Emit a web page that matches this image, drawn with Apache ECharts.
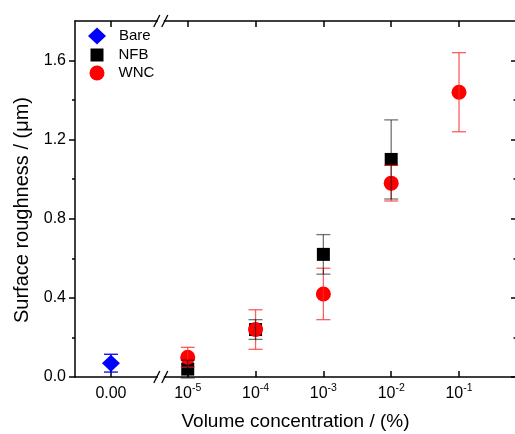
<!DOCTYPE html>
<html><head><meta charset="utf-8">
<script src="https://cdn.jsdelivr.net/npm/echarts@6/dist/echarts.min.js"></script>
<style>html,body{margin:0;padding:0;background:#fff}#c{width:515px;height:434px}</style>
</head><body><div id="c"></div>
<script>
// ---- data ----
const xTickConc = [0, 1e-5, 1e-4, 1e-3, 1e-2, 1e-1];
const xTickLabels = ['0.00', '10^-5', '10^-4', '10^-3', '10^-2', '10^-1'];
const yMajorTicks = [0, 0.4, 0.8, 1.2, 1.6];
const yMinorTicks = [0.2, 0.6, 1.0, 1.4];

const bareConc = [0];
const bareY = [0.07];
const bareErr = [0.045];

const nfbConc = [1e-5, 1e-4, 1e-3, 1e-2];
const nfbY = [0.04, 0.24, 0.62, 1.10];
const nfbErr = [0.045, 0.05, 0.10, 0.20];

const wncConc = [1e-5, 1e-4, 1e-3, 1e-2, 1e-1];
const wncY = [0.10, 0.24, 0.42, 0.98, 1.44];
const wncErr = [0.05, 0.10, 0.13, 0.09, 0.20];

// ---- axis transform (log decades with a broken-off zero position) ----
const ZERO_POS = -6.132;
const BREAK_POS = -5.397;
const X_MIN = -6.662, X_MAX = -0.16;
const Y_MIN = 0, Y_MAX = 1.8;
function pos(c) { return c === 0 ? ZERO_POS : Math.log10(c); }

const FONT = 'Liberation Sans, Arial, sans-serif';
const tickPos = xTickConc.map(pos);

function pts(conc, y) { return conc.map((c, i) => [pos(c), y[i]]); }
function errData(conc, y, e) { return conc.map((c, i) => [pos(c), y[i] - e[i], y[i] + e[i]]); }

function errSeries(data, color, z) {
  return {
    type: 'custom', xAxisIndex: 0, yAxisIndex: 0, z: z, silent: true,
    data: data,
    renderItem: function (params, api) {
      const x = api.value(0), lo = api.value(1), hi = api.value(2);
      const pLo = api.coord([x, lo]), pHi = api.coord([x, hi]);
      const hw = 7;
      const st = { stroke: color, lineWidth: 1.3 };
      return { type: 'group', children: [
        { type: 'line', shape: { x1: pLo[0], y1: pLo[1], x2: pHi[0], y2: pHi[1] }, style: st },
        { type: 'line', shape: { x1: pLo[0] - hw, y1: pLo[1], x2: pLo[0] + hw, y2: pLo[1] }, style: st },
        { type: 'line', shape: { x1: pHi[0] - hw, y1: pHi[1], x2: pHi[0] + hw, y2: pHi[1] }, style: st }
      ]};
    }
  };
}

const axisLineStyle = { color: '#000', width: 1.5 };
const chart = echarts.init(document.getElementById('c'), null, { renderer: 'canvas' });

function xLabel(v) {
  for (let i = 0; i < tickPos.length; i++) {
    if (Math.abs(tickPos[i] - v) < 1e-6) {
      const t = xTickLabels[i];
      if (t.indexOf('^') >= 0) {
        const p = t.split('^');
        return '{n|' + p[0] + '}{s|' + p[1] + '}';
      }
      return '{n|' + t + '}';
    }
  }
  return '';
}

function legendFor(name, icon, w, h, top, padLeft) {
  return {
    orient: 'vertical', left: 97 - w / 2, top: top, padding: 0, itemWidth: w, itemHeight: h,
    textStyle: { fontFamily: FONT, fontSize: 15, color: '#000', padding: [0, 0, 0, padLeft] },
    selectedMode: false, data: [{ name: name, icon: icon }]
  };
}

chart.setOption({
  animation: false,
  backgroundColor: '#fff',
  grid: { left: 75, right: -1, top: 21, bottom: 57, containLabel: false, outerBoundsMode: 'none' },
  legend: [
    legendFor('Bare', 'diamond', 18, 17, 27.5, 8),
    legendFor('NFB', 'rect', 13, 13, 47.5, 10),
    legendFor('WNC', 'circle', 15, 15, 65.5, 9)
  ],
  xAxis: [
    {
      type: 'value', position: 'bottom', min: X_MIN, max: X_MAX,
      axisLine: { show: true, onZero: false, lineStyle: axisLineStyle },
      axisTick: { show: true, inside: true, length: 6, customValues: tickPos, lineStyle: { color: '#000', width: 1.5 } },
      axisLabel: {
        show: true, customValues: tickPos, formatter: xLabel, margin: 6, color: '#000',
        rich: {
          n: { fontFamily: FONT, fontSize: 16, color: '#000', lineHeight: 19, verticalAlign: 'bottom' },
          s: { fontFamily: FONT, fontSize: 10.5, color: '#000', lineHeight: 10, verticalAlign: 'top' }
        }
      },
      splitLine: { show: false },
      name: 'Volume concentration / (%)', nameLocation: 'middle', nameGap: 35,
      nameTextStyle: { fontFamily: FONT, fontSize: 19, color: '#000' }
    },
    {
      type: 'value', position: 'top', min: X_MIN, max: X_MAX,
      axisLine: { show: true, onZero: false, lineStyle: axisLineStyle },
      axisTick: { show: true, inside: true, length: 6, customValues: tickPos, lineStyle: { color: '#000', width: 1.5 } },
      axisLabel: { show: false },
      splitLine: { show: false }
    }
  ],
  yAxis: [
    {
      type: 'value', position: 'left', min: Y_MIN, max: Y_MAX,
      axisLine: { show: true, onZero: false, lineStyle: axisLineStyle },
      axisTick: { show: true, inside: false, length: 6, customValues: yMajorTicks, lineStyle: { color: '#000', width: 1.5 } },
      axisLabel: { show: true, customValues: yMajorTicks, formatter: v => v.toFixed(1), margin: 9,
        fontFamily: FONT, fontSize: 16, color: '#000' },
      splitLine: { show: false },
      name: 'Surface roughness / (\u03bcm)', nameLocation: 'middle', nameGap: 40,
      nameTextStyle: { fontFamily: FONT, fontSize: 20, color: '#000', padding: [0, 22, 0, 0] }
    },
    {
      type: 'value', position: 'left', min: Y_MIN, max: Y_MAX,
      axisLine: { show: false, onZero: false },
      axisTick: { show: true, inside: false, length: 3, customValues: yMinorTicks, lineStyle: { color: '#000', width: 1.5 } },
      axisLabel: { show: false }, splitLine: { show: false }
    },
    {
      type: 'value', position: 'right', min: Y_MIN, max: Y_MAX,
      axisLine: { show: true, onZero: false, lineStyle: axisLineStyle },
      axisTick: { show: true, inside: true, length: 5, customValues: yMajorTicks, lineStyle: { color: '#000', width: 1.5 } },
      axisLabel: { show: false }, splitLine: { show: false }
    },
    {
      type: 'value', position: 'right', min: Y_MIN, max: Y_MAX,
      axisLine: { show: false, onZero: false },
      axisTick: { show: true, inside: true, length: 2.5, customValues: yMinorTicks, lineStyle: { color: '#000', width: 1.5 } },
      axisLabel: { show: false }, splitLine: { show: false }
    }
  ],
  series: [
    { name: 'Bare', type: 'scatter', xAxisIndex: 0, yAxisIndex: 0, symbol: 'diamond', symbolSize: [18, 17],
      itemStyle: { color: '#0000ff', opacity: 1 }, data: pts(bareConc, bareY), z: 2 },
    errSeries(errData(bareConc, bareY, bareErr), '#0000ff', 6),
    { name: 'NFB', type: 'scatter', xAxisIndex: 0, yAxisIndex: 0, symbol: 'rect', symbolSize: 13,
      itemStyle: { color: '#000000', opacity: 1 }, data: pts(nfbConc, nfbY), z: 3 },
    { name: 'WNC', type: 'scatter', xAxisIndex: 0, yAxisIndex: 0, symbol: 'circle', symbolSize: 15,
      itemStyle: { color: '#ff0000', opacity: 1 }, data: pts(wncConc, wncY), z: 4 },
    errSeries(errData(wncConc, wncY, wncErr), 'rgba(255,40,40,0.75)', 7),
    errSeries(errData(nfbConc, nfbY, nfbErr), 'rgba(0,0,0,0.55)', 8)
  ]
});

// axis-break marks ("//") on bottom and top axes, positioned through the axis scale
function drawBreaks() {
  const bx = chart.convertToPixel({ xAxisIndex: 0 }, BREAK_POS);
  const yb = chart.convertToPixel({ yAxisIndex: 0 }, Y_MIN);
  const yt = chart.convertToPixel({ yAxisIndex: 0 }, Y_MAX);
  const els = [];
  [yb, yt].forEach(y => {
    els.push({ type: 'rect', shape: { x: bx - 3, y: y - 2, width: 6, height: 4 }, style: { fill: '#fff' }, z: 100 });
    els.push({ type: 'line', shape: { x1: bx - 7, y1: y + 6, x2: bx - 1, y2: y - 6 }, style: { stroke: '#000', lineWidth: 1.3 }, z: 101 });
    els.push({ type: 'line', shape: { x1: bx + 1, y1: y + 6, x2: bx + 7, y2: y - 6 }, style: { stroke: '#000', lineWidth: 1.3 }, z: 101 });
  });
  chart.setOption({ graphic: els });
}
drawBreaks();
</script>
</body></html>
